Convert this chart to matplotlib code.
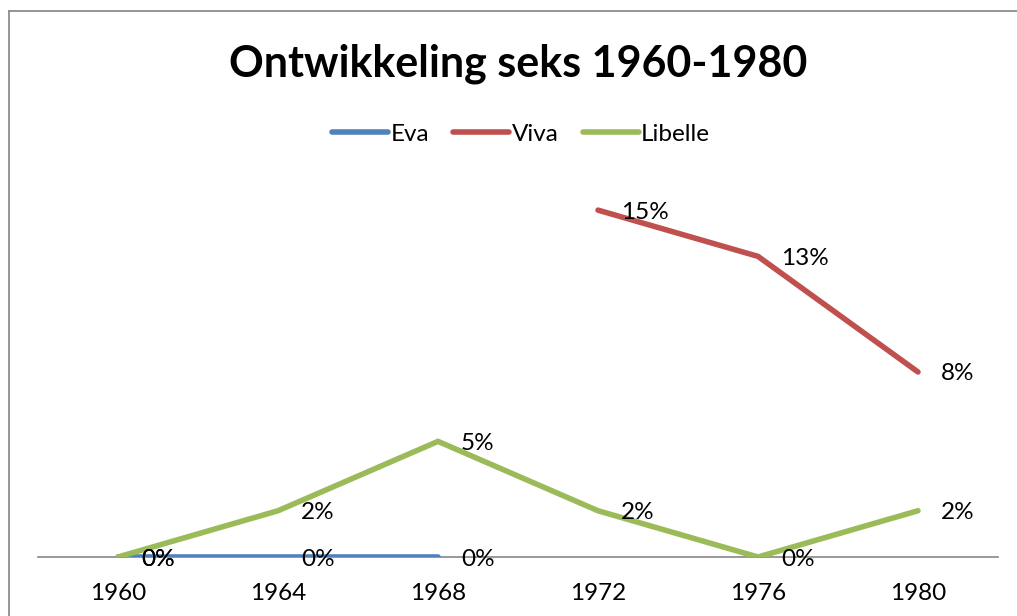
import numpy as np
import matplotlib
matplotlib.use("Agg")
import matplotlib.pyplot as plt
from matplotlib.lines import Line2D

plt.rcParams['font.family'] = ['Lato', 'DejaVu Sans']

years = ['1960', '1964', '1968', '1972', '1976', '1980']
eva = [0, 0, 0, np.nan, np.nan, np.nan]
viva = [np.nan, np.nan, np.nan, 15, 13, 8]
libelle = [0, 2, 5, 2, 0, 2]
series_names = ['Eva', 'Viva', 'Libelle']
colors = ['#4F81BD', '#C0504D', '#9BBB59']
title = 'Ontwikkeling seks 1960-1980'

fs = 17.5

fig = plt.figure(figsize=(10.17, 6.16), dpi=100)
ax = fig.add_axes([38/1017, 59/616, 960/1017, 370/616])

x = np.arange(len(years))
handles = []
for name, vals, c in zip(series_names, [eva, viva, libelle], colors):
    h, = ax.plot(x, vals, color=c, lw=4.0, solid_capstyle='round', solid_joinstyle='miter', label=name, zorder=3)
    handles.append(h)
    for xi, v in zip(x, vals):
        if not np.isnan(v):
            ax.annotate(f'{v:.0f}%', (xi, v), xytext=(23, -2), textcoords='offset pixels',
                        ha='left', va='center', fontsize=fs, color='black', zorder=5)

ax.set_xlim(-0.5, 5.5)
ax.set_ylim(0, 16)
ax.set_xticks(x)
ax.set_xticklabels(years, fontsize=fs)
ax.set_yticks([])
ax.tick_params(axis='x', length=0, pad=19)
for s in ['top', 'right', 'left']:
    ax.spines[s].set_visible(False)
ax.spines['bottom'].set_color('#868686')
ax.spines['bottom'].set_linewidth(1.2)
ax.spines['bottom'].set_zorder(2)
ax.patch.set_visible(False)

fig.text(518/1017, 1 - 64/616, title, ha='center', va='center', fontsize=31, fontweight='bold')

leg = fig.legend(handles=handles, loc='center', bbox_to_anchor=(521/1017, 1 - 134/616), ncol=3,
                 frameon=False, fontsize=fs, handlelength=2.3, handletextpad=0.1, columnspacing=1.0,
                 borderpad=0)

# chart border (left and top visible)
fig.add_artist(Line2D([8.5/1017, 8.5/1017], [0, 1 - 11/616], transform=fig.transFigure, color='#8c8c8c', lw=1.3))
fig.add_artist(Line2D([8.5/1017, 1], [1 - 11/616, 1 - 11/616], transform=fig.transFigure, color='#8c8c8c', lw=1.3))

fig.savefig('out.png', dpi=100)
